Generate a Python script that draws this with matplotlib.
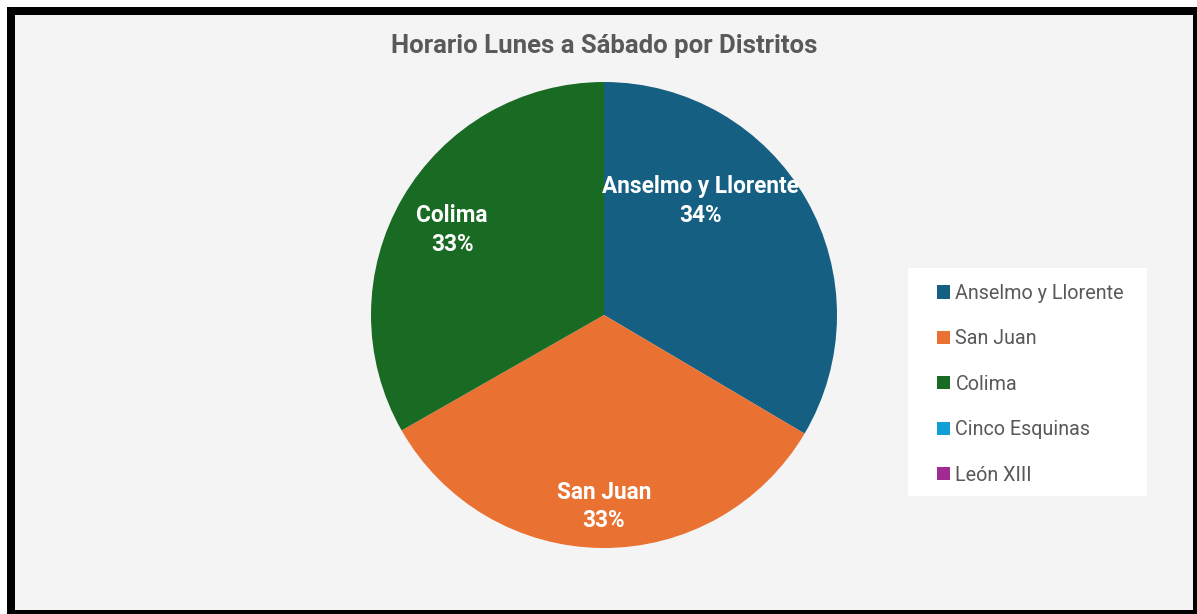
import matplotlib
matplotlib.use("Agg")
import matplotlib.pyplot as plt
from matplotlib.patches import Rectangle

# chart data
districts = ["Anselmo y Llorente", "San Juan", "Colima", "Cinco Esquinas", "León XIII"]
shares = [33.5, 33.25, 33.25, 0, 0]
colors = ["#156082", "#E97132", "#196B24", "#0F9ED5", "#A02B93"]

W, H = 1197, 614
fig = plt.figure(figsize=(W / 100, H / 100), dpi=100)
fig.patch.set_facecolor("white")
FONT = ["Roboto", "DejaVu Sans"]


def px_rect(x0, y0, x1, y1, **kw):
    # rectangle given in pixel coords measured from the top-left corner
    return Rectangle((x0 / W, 1 - y1 / H), (x1 - x0) / W, (y1 - y0) / H,
                     transform=fig.transFigure, **kw)


# black frame and light chart area
fig.patches.append(px_rect(7, 7, W + 10, H + 10, facecolor="black", edgecolor="none", zorder=0))
fig.patches.append(px_rect(15, 15, 1193, 610, facecolor="#f4f4f4", edgecolor="none", zorder=1))
# legend box
fig.patches.append(px_rect(908, 268, 1147, 496, facecolor="white", edgecolor="none", zorder=2))

fig.text(604 / W, 1 - 46 / H, "Horario Lunes a Sábado por Distritos",
         ha="center", va="center", fontsize=18.5, fontweight="bold",
         color="#595959", family=FONT)

cx, cy, r = 604, 315, 233
ax = fig.add_axes([(cx - r) / W, 1 - (cy + r) / H, 2 * r / W, 2 * r / H])
ax.set_zorder(3)
wedges, _ = ax.pie(shares, colors=colors, startangle=90, counterclock=False,
                   radius=1, wedgeprops=dict(linewidth=0))
ax.set_xlim(-1, 1)
ax.set_ylim(-1, 1)
ax.set_aspect("equal")
ax.axis("off")

# data label placement (x, y in pie radius units), like Excel's best fit
label_pos = [(0.416, 0.49), (0.0, -0.822), (-0.652, 0.365)]
for name, val, (lx, ly) in zip(districts, shares, label_pos):
    ax.text(lx, ly, "{}\n{:.0f}%".format(name, val), ha="center", va="center",
            color="white", fontsize=16.3, fontweight="bold", linespacing=1.3,
            family=FONT)

leg = fig.legend(wedges, districts, loc="upper left",
                 bbox_to_anchor=(927 / W, 1 - 274 / H), frameon=False,
                 labelcolor="#595959", handlelength=0.66,
                 handleheight=0.66, handletextpad=0.28, labelspacing=1.34,
                 borderpad=0, prop=dict(family=FONT, size=14.2))
leg.set_zorder(4)

fig.savefig("out.png", dpi=100)
